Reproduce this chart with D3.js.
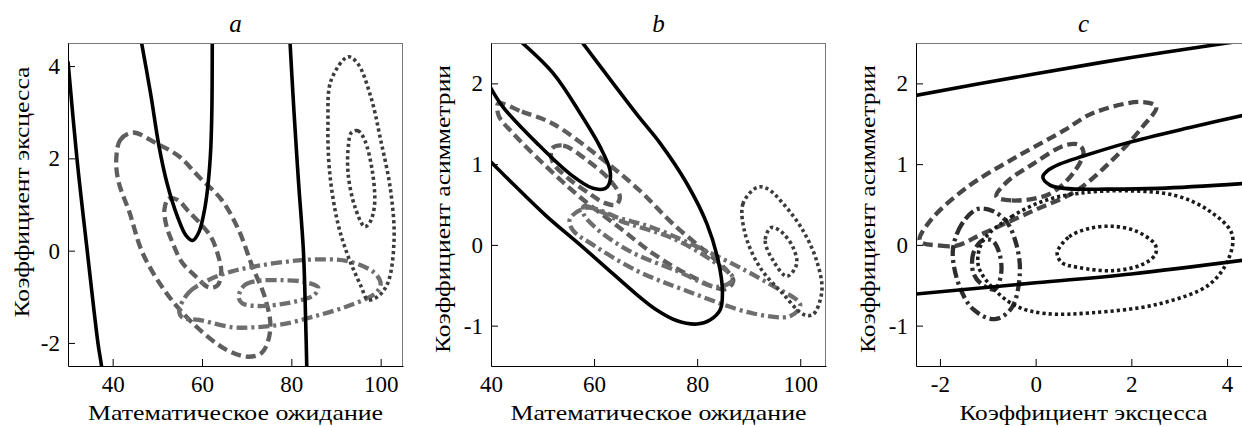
<!DOCTYPE html>
<html>
<head>
<meta charset="utf-8">
<script src="https://cdn.jsdelivr.net/npm/d3@7"></script>
<style>
  body { margin: 0; background: #fff; }
  svg { display: block; }
  text { font-family: 'Liberation Serif', 'DejaVu Serif', serif; fill: #000; }
</style>
</head>
<body>
<script>
// ---- data ----
const titles = ['a', 'b', 'c']
const xLabels = ['Математическое ожидание', 'Математическое ожидание', 'Коэффициент эксцесса']
const yLabels = ['Коэффициент эксцесса', 'Коэффициент асимметрии', 'Коэффициент асимметрии']
const xDomains = [[30, 105], [40, 105], [-2.5, 4.5]]
const yDomains = [[-2.5, 4.5], [-1.5, 2.5], [-1.5, 2.5]]
const xTicks = [[40, 60, 80, 100], [40, 60, 80, 100], [-2, 0, 2, 4]]
const yTicks = [[-2, 0, 2, 4], [-1, 0, 1, 2], [-1, 0, 1, 2]]

// panel a : mean vs excess
const aSolid1 = [[30, 4.1], [32, 2], [34.3, 0], [36.7, -2], [37.5, -2.5], [37.8, -2.8]]
const aSolid2 = [[46.1, 4.7], [48.5, 3.4], [50.4, 2.25], [52.2, 1.45], [54.5, 0.74], [56.4, 0.33], [57.9, 0.22], [59.3, 0.4], [60.4, 0.8], [61.2, 1.3], [61.9, 2.1], [62.2, 3], [62.3, 4.7]]
const aSolid3 = [[79.6, 4.7], [80.6, 3], [81.6, 1.5], [82.7, 0], [83.2, -1.5], [83.5, -2.7]]
const aDash1 = [[40.8, 1.97], [41.7, 2.4], [44.5, 2.56], [49.7, 2.33], [54.9, 2.04], [59.3, 1.6], [64.4, 1.1], [68.2, 0.45], [71.1, -0.3], [74.2, -1.05], [75.3, -1.7], [73.5, -2.2], [70.4, -2.3], [65.3, -2.14], [57.8, -1.56], [51.9, -0.9], [46.7, -0.05], [43.8, 0.82], [41.3, 1.5]]
const aDash2 = [[51.6, 0.9], [52.5, 1.12], [54.5, 1.1], [57, 0.85], [59.5, 0.6], [62, 0.3], [63.6, -0.1], [64.3, -0.45], [63.5, -0.75], [61.6, -0.8], [58.5, -0.55], [55.5, -0.25], [53.5, 0.15], [52, 0.55]]
const aDashDot1 = [[54.9, -1.3], [57.1, -0.9], [61.6, -0.63], [66.7, -0.45], [71.9, -0.34], [78, -0.25], [85.3, -0.19], [92.7, -0.23], [98.6, -0.48], [100, -0.72], [98.9, -0.92], [92.7, -1.2], [85.3, -1.42], [77.8, -1.6], [71.9, -1.66], [66.7, -1.66], [59.3, -1.5], [55.6, -1.45]]
const aDashDot2 = [[68.2, -1.0], [69.5, -0.75], [72, -0.66], [77.8, -0.64], [83, -0.68], [86, -0.8], [85, -0.97], [81, -1.1], [77.8, -1.16], [72.7, -1.2], [69, -1.14]]
const aDot1 = [[92.7, 4.2], [94.9, 4.05], [97.8, 3.33], [100, 2.4], [102.2, 1.32], [103, 0.24], [101.6, -0.7], [99.3, -1.0], [97.1, -1.06], [95.6, -0.77], [92.7, -0.12], [90.4, 0.6], [88.6, 1.68], [88.2, 2.76], [88.9, 3.69]]
const aDot2 = [[93.4, 2.55], [94.9, 2.6], [96.4, 2.4], [98.2, 1.68], [98.6, 0.96], [97.5, 0.6], [96.4, 0.52], [94.2, 0.96], [92.7, 1.68], [92.8, 2.3]]

// panel b : mean vs skewness
const bSolid1 = [[45.2, 2.55], [52, 2.13], [57.3, 1.63], [61.2, 1.21], [63.1, 0.92], [62.9, 0.75], [62.2, 0.7], [59.8, 0.7], [55.3, 0.88], [48.9, 1.26], [42.3, 1.71], [39.8, 1.96]]
const bSolid2 = [[57.2, 2.55], [63.7, 2.0], [68.5, 1.6], [72.8, 1.26], [78, 0.76], [81.9, 0.26], [84.1, -0.2], [84.9, -0.57], [84.5, -0.8], [82.5, -0.93], [80, -0.98], [76.1, -0.94], [72, -0.8], [68, -0.6], [63.7, -0.36], [57.3, 0.0], [50.7, 0.36], [44.2, 0.76], [39.8, 1.04]]
const bDash1 = [[41.4, 1.75], [46, 1.65], [52, 1.5], [61.2, 1.08], [68.9, 0.67], [75.3, 0.26], [83.1, -0.16], [85.8, -0.32], [87, -0.45], [85.4, -0.55], [78, -0.36], [71.5, -0.11], [65, 0.21], [57.3, 0.59], [50.9, 0.96], [44.3, 1.38], [41.5, 1.6]]
const bDash2 = [[51.8, 1.19], [54, 1.23], [58.6, 1.05], [63.1, 0.8], [65, 0.6], [64.3, 0.5], [62, 0.52], [59.2, 0.63], [54.7, 0.84], [52, 1.02]]
const bDashDot1 = [[55.3, 0.32], [58.6, 0.46], [65, 0.33], [71.5, 0.21], [84.5, -0.16], [94.2, -0.49], [100, -0.74], [98.1, -0.88], [90.9, -0.85], [78, -0.57], [68.3, -0.32], [59.8, 0.0], [55.9, 0.18]]
const bDashDot2 = [[58, 0.48], [61, 0.42], [65, 0.3], [75.3, 0.08], [83, -0.2], [87, -0.42], [84, -0.52], [76, -0.32], [67, -0.08], [60.5, 0.2], [58, 0.38]]
const bDot1 = [[91.6, 0.71], [88.9, 0.51], [89.3, 0.14], [92.2, -0.28], [96.7, -0.61], [100.6, -0.86], [102.5, -0.86], [104.2, -0.57], [103.2, -0.2], [100.6, 0.17], [96.7, 0.51], [93.5, 0.7]]
const bDot2 = [[94.2, 0.21], [93.2, 0.05], [94.8, -0.2], [97.4, -0.39], [99.3, -0.24], [98.6, -0.03], [96.7, 0.14], [95.1, 0.21]]

// panel c : excess vs skewness
const cSolid1 = [[-2.7, 1.83], [0, 2.12], [2, 2.32], [4, 2.5], [4.6, 2.55]]
const cSolid2 = [[4.6, 1.64], [3.27, 1.46], [1.89, 1.26], [1.0, 1.1], [0.5, 1.0], [0.25, 0.92], [0.15, 0.84], [0.3, 0.74], [0.6, 0.7], [1.5, 0.69], [2.58, 0.7], [4.6, 0.77]]
const cSolid3 = [[-2.7, -0.62], [0, -0.47], [2, -0.36], [4.6, -0.17]]
const cDash1 = [[-2.42, 0.05], [-2.0, -0.01], [-1.65, -0.01], [-1.1, 0.14], [-0.06, 0.42], [0.85, 0.67], [1.6, 1.05], [2.23, 1.46], [2.52, 1.71], [2.2, 1.77], [1.19, 1.63], [0.6, 1.42], [-0.4, 1.09], [-1.44, 0.71], [-2.2, 0.3]]
const cDash2 = [[-0.82, 0.6], [-0.5, 0.55], [0.29, 0.63], [0.8, 0.9], [1.0, 1.15], [0.9, 1.24], [0.6, 1.23], [-0.06, 1.0], [-0.6, 0.78]]
const cDashDot1 = [[-1.23, 0.44], [-1.55, 0.25], [-1.73, -0.07], [-1.6, -0.5], [-1.3, -0.8], [-0.85, -0.92], [-0.5, -0.78], [-0.33, -0.35], [-0.4, 0.0], [-0.6, 0.28], [-0.9, 0.42]]
const cDashDot2 = [[-1.1, 0.06], [-1.3, -0.1], [-1.3, -0.35], [-1.1, -0.5], [-0.85, -0.55], [-0.72, -0.35], [-0.76, -0.1], [-0.9, 0.05]]
const cDot1 = [[-1.1, 0.05], [-0.5, 0.35], [0.2, 0.55], [0.92, 0.64], [1.89, 0.67], [2.93, 0.61], [3.63, 0.42], [4.1, 0.14], [4.04, -0.16], [3.63, -0.49], [2.58, -0.73], [1.19, -0.84], [0.2, -0.85], [-0.4, -0.76], [-0.9, -0.53], [-1.2, -0.25]]
const cDot2 = [[0.45, -0.1], [0.7, 0.1], [1.1, 0.2], [1.6, 0.23], [2.1, 0.17], [2.5, 0.0], [2.5, -0.12], [2.2, -0.25], [1.6, -0.32], [0.9, -0.28], [0.55, -0.22]]

const curves = [
	[
		{ pts: aDash1, style: 'dash', closed: true }, { pts: aDash2, style: 'dash', closed: true },
		{ pts: aDashDot1, style: 'dashdot', closed: true }, { pts: aDashDot2, style: 'dashdot', closed: true },
		{ pts: aDot1, style: 'dot', closed: true }, { pts: aDot2, style: 'dot', closed: true },
		{ pts: aSolid1, style: 'solid' }, { pts: aSolid2, style: 'solid' }, { pts: aSolid3, style: 'solid' }
	],
	[
		{ pts: bDash1, style: 'dash', closed: true }, { pts: bDash2, style: 'dash', closed: true },
		{ pts: bDashDot1, style: 'dashdot', closed: true }, { pts: bDashDot2, style: 'dashdot', closed: true },
		{ pts: bDot1, style: 'dot', closed: true }, { pts: bDot2, style: 'dot', closed: true },
		{ pts: bSolid1, style: 'solid' }, { pts: bSolid2, style: 'solid' }
	],
	[
		{ pts: cDash1, style: 'dash', closed: true }, { pts: cDash2, style: 'dash', closed: true },
		{ pts: cDashDot1, style: 'dashdot', closed: true }, { pts: cDashDot2, style: 'dashdot', closed: true },
		{ pts: cDot1, style: 'dot', closed: true }, { pts: cDot2, style: 'dot', closed: true },
		{ pts: cSolid1, style: 'solid' }, { pts: cSolid2, style: 'solid' }, { pts: cSolid3, style: 'solid' }
	]
]

// ---- layout ----
const W = 1242, H = 427
const lefts = [68, 491, 916]
const plotTop = 43, pw = 335, ph = 323
const yLabelX = [22, 443, 868]
const yLabelY = [192, 209, 209]
// widths the LaTeX labels take in the picture
const xLabelLen = [295, 296, 248]
const yLabelLen = [251, 288, 288]

const styles = {
	a: {
		solid: { stroke: '#000', width: 3.6, dash: null },
		dash: { stroke: '#5e5e5e', width: 4.3, dash: '10,5' },
		dashdot: { stroke: '#6e6e6e', width: 4.3, dash: '11,4,3,4' },
		dot: { stroke: '#3c3c3c', width: 3.6, dash: '3.2,3' }
	},
	c: {
		solid: { stroke: '#000', width: 3.6, dash: null },
		dash: { stroke: '#474747', width: 4.3, dash: '10,5' },
		dashdot: { stroke: '#2e2e2e', width: 4.3, dash: '11,4,3,4' },
		dot: { stroke: '#1a1a1a', width: 3.6, dash: '3.2,3' }
	}
}

const svg = d3.select('body').append('svg').attr('width', W).attr('height', H)

titles.forEach((t, i) => {
	const x = d3.scaleLinear().domain(xDomains[i]).range([0, pw])
	const y = d3.scaleLinear().domain(yDomains[i]).range([ph, 0])
	const g = svg.append('g').attr('transform', `translate(${lefts[i]},${plotTop})`)
	const st = i === 2 ? styles.c : styles.a

	g.append('clipPath').attr('id', 'clip' + i)
		.append('rect').attr('width', pw).attr('height', ph)

	const plot = g.append('g').attr('clip-path', `url(#clip${i})`)
	const line = d3.line().x(d => x(d[0])).y(d => y(d[1]))

	curves[i].forEach((c) => {
		const s = st[c.style]
		plot.append('path')
			.attr('d', line.curve(c.closed ? d3.curveCatmullRomClosed.alpha(0.5) : d3.curveCatmullRom.alpha(0.5))(c.pts))
			.attr('fill', 'none')
			.attr('stroke', s.stroke)
			.attr('stroke-width', s.width)
			.attr('stroke-dasharray', s.dash)
			.attr('stroke-linejoin', 'round')
	})

	// frame: top and right lighter
	g.append('line').attr('x1', 0).attr('x2', pw).attr('y1', 0.5).attr('y2', 0.5).attr('stroke', '#777')
	g.append('line').attr('x1', pw - 0.5).attr('x2', pw - 0.5).attr('y1', 0).attr('y2', ph).attr('stroke', '#777')

	const xAxis = d3.axisBottom(x).tickValues(xTicks[i]).tickSizeInner(-7).tickSizeOuter(0).tickPadding(10).tickFormat(d => String(d))
	const yAxis = d3.axisLeft(y).tickValues(yTicks[i]).tickSizeInner(-7).tickSizeOuter(0).tickPadding(8).tickFormat(d => String(d))

	const gx = g.append('g').attr('transform', `translate(0,${ph})`).call(xAxis)
	const gy = g.append('g').call(yAxis)
	;[gx, gy].forEach(a => {
		a.selectAll('text').style('font-size', '23px')
		a.select('.domain').attr('stroke', '#000')
	})

	g.append('text').attr('x', pw / 2).attr('y', -11)
		.attr('text-anchor', 'middle').style('font-style', 'italic').style('font-size', '25px')
		.text(t)

	g.append('text').attr('x', pw / 2).attr('y', 420 - plotTop)
		.attr('text-anchor', 'middle').style('font-size', '21px')
		.attr('textLength', xLabelLen[i]).attr('lengthAdjust', 'spacingAndGlyphs')
		.text(xLabels[i])

	svg.append('text')
		.attr('transform', `translate(${yLabelX[i]},${yLabelY[i]}) rotate(-90)`)
		.attr('text-anchor', 'middle').attr('dy', '0.35em').style('font-size', '21px')
		.attr('textLength', yLabelLen[i]).attr('lengthAdjust', 'spacingAndGlyphs')
		.text(yLabels[i])
})
</script>
</body>
</html>
